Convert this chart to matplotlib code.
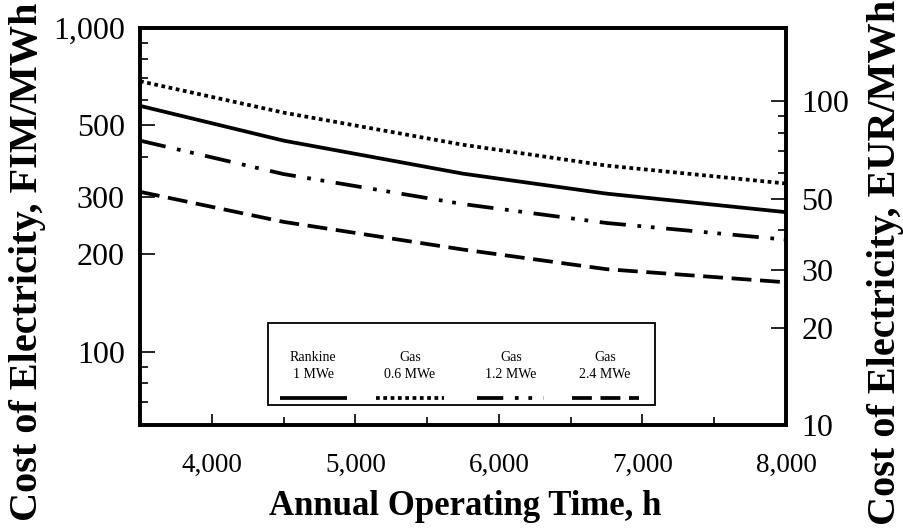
import matplotlib
matplotlib.use("Agg")
import matplotlib.pyplot as plt
from matplotlib.ticker import FixedLocator, FixedFormatter, NullFormatter
from matplotlib.lines import Line2D
from matplotlib.patches import Rectangle

# ---------------- data (FIM/MWh) ----------------
hours = [3500, 4500, 5750, 6750, 8000]
rankine_1mwe = [575, 449, 355, 308, 270]
gas_06mwe = [685, 548, 436, 376, 331]
gas_12mwe = [449, 354, 286, 250, 222]
gas_24mwe = [312, 252, 207, 180, 164]

series_names = ["Rankine\n1 MWe", "Gas\n0.6 MWe", "Gas\n1.2 MWe", "Gas\n2.4 MWe"]
left_major = [100, 200, 300, 500, 1000]
left_major_labels = ["100", "200", "300", "500", "1,000"]
left_minor = [70, 80, 90, 400, 600, 700, 800, 900]
right_major = [10, 20, 30, 50, 100]
right_minor = [40, 60, 70, 80, 90]
x_major = [4000, 5000, 6000, 7000, 8000]
x_major_labels = ["4,000", "5,000", "6,000", "7,000", "8,000"]
x_minor = [3500, 4500, 5500, 6500, 7500]
FIM_PER_EUR = 5.94573

plt.rcParams['font.family'] = ['Liberation Serif', 'DejaVu Serif']

fig = plt.figure(figsize=(9.04, 5.30), dpi=100)
ax = fig.add_axes([140/904, 1-425/530, 646/904, 397/530])

lw = 2.7
styles = [
    dict(linestyle='-', linewidth=lw),
    dict(linestyle=(0, (1.0, 0.95)), linewidth=lw),
    dict(linestyle=(0, (7.0, 3.1, 1.0, 2.6, 1.0, 3.1)), linewidth=lw),
    dict(linestyle=(0, (5.3, 2.3)), linewidth=lw),
]
data = [rankine_1mwe, gas_06mwe, gas_12mwe, gas_24mwe]
for vals, st in zip(data, styles):
    ax.plot(hours, vals, color='black', solid_capstyle='butt', dash_capstyle='butt', **st)

ax.set_yscale('log')
ax.set_xlim(3500, 8000)
ax.set_ylim(10 * FIM_PER_EUR, 1000)

ax.xaxis.set_major_locator(FixedLocator(x_major))
ax.xaxis.set_major_formatter(FixedFormatter(x_major_labels))
ax.xaxis.set_minor_locator(FixedLocator(x_minor))
ax.yaxis.set_major_locator(FixedLocator(left_major))
ax.yaxis.set_major_formatter(FixedFormatter(left_major_labels))
ax.yaxis.set_minor_locator(FixedLocator(left_minor))
ax.yaxis.set_minor_formatter(NullFormatter())

for s in ax.spines.values():
    s.set_linewidth(2.6)

ax.tick_params(axis='y', which='major', direction='in', length=11, width=1.2, labelsize=23, pad=11)
ax.tick_params(axis='y', which='minor', direction='in', length=6, width=1.2)
ax.tick_params(axis='x', which='major', direction='in', length=8, width=1.2, labelsize=19.5, pad=20)
ax.tick_params(axis='x', which='minor', direction='in', length=6, width=1.2)

ax2 = ax.twinx()
ax2.set_yscale('log')
lo, hi = ax.get_ylim()
ax2.set_ylim(lo / FIM_PER_EUR, hi / FIM_PER_EUR)
ax2.yaxis.set_major_locator(FixedLocator(right_major))
ax2.yaxis.set_major_formatter(FixedFormatter([str(v) for v in right_major]))
ax2.yaxis.set_minor_locator(FixedLocator(right_minor))
ax2.yaxis.set_minor_formatter(NullFormatter())
ax2.tick_params(axis='y', which='major', direction='in', length=11, width=1.2, labelsize=23, pad=11)
ax2.tick_params(axis='y', which='minor', direction='in', length=6, width=1.2)
for s in ax2.spines.values():
    s.set_linewidth(2.6)

ax.set_xlabel("Annual Operating Time, h", fontsize=25, fontweight='bold')
ax.xaxis.set_label_coords(0.503, -0.164)
ax.set_ylabel("Cost of Electricity, FIM/MWh", fontsize=29, fontweight='bold')
ax.yaxis.set_label_coords(-0.145, 0.41)
ax2.set_ylabel("Cost of Electricity, EUR/MWh", fontsize=29, fontweight='bold')
ax2.yaxis.set_label_coords(1.125, 0.41)

# ---------------- legend (manual, text above sample) ----------------
box = Rectangle((0.198, 0.050), 0.599, 0.207, transform=ax.transAxes,
                fill=True, facecolor='white', edgecolor='black', linewidth=1.3, zorder=5)
ax.add_patch(box)
centers = [0.268, 0.418, 0.574, 0.720]
for c, name, st in zip(centers, series_names, styles):
    top, bottom = name.split("\n")
    ax.text(c, 0.171, top, transform=ax.transAxes, ha='center', va='center', fontsize=10, zorder=6)
    ax.text(c, 0.126, bottom, transform=ax.transAxes, ha='center', va='center', fontsize=10, zorder=6)
    ax.add_line(Line2D([c - 0.052, c + 0.052], [0.068, 0.068], transform=ax.transAxes,
                       color='black', zorder=6, solid_capstyle='butt', dash_capstyle='butt', **st))

fig.savefig("out.png", dpi=100)
